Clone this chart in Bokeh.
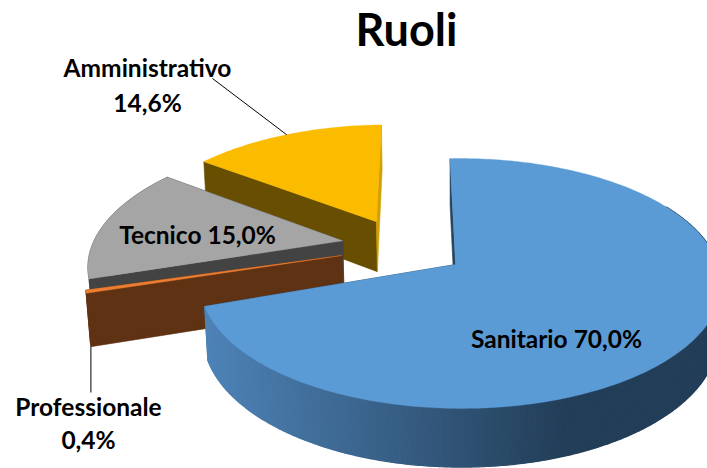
import math
from bokeh.plotting import figure
from bokeh.models import Range1d
from bokeh.core.properties import value
from bokeh.embed import file_html
from bokeh.resources import INLINE

names = ["Sanitario", "Professionale", "Tecnico", "Amministrativo"]
shares = [70.0, 0.4, 15.0, 14.6]
title_text = "Ruoli"

FONT = "Lato"
START = -1.4
TOP = dict(ax=455, ay=264, rx=250, ry=122, k=0.152)
BOT = dict(ax=455, ay=316, rx=247, ry=128, k=0.15)
OFFSET = {"Sanitario": (0, 0), "Professionale": (-0.46, 0.075),
          "Tecnico": (-0.465, 0.20), "Amministrativo": (-0.334, 0.37)}
RADIUS = {"Sanitario": 1.0, "Professionale": 1.012, "Tecnico": 1.025, "Amministrativo": 1.015}
TURN = {"Sanitario": 0.0, "Professionale": 2.0, "Tecnico": 0.0, "Amministrativo": 0.0}
SKEW = {"Sanitario": 0.02, "Professionale": 0.0, "Tecnico": 0.0, "Amministrativo": 0.0}
WIDE = {"Sanitario": 1.03, "Professionale": 1.0, "Tecnico": 1.0, "Amministrativo": 1.0}
TOPC = {"Sanitario": "#5B9BD5", "Professionale": "#ED7D31", "Tecnico": "#A5A5A5", "Amministrativo": "#FBBC00"}
SIDE = {"Sanitario": "#24435F", "Professionale": "#5F3214", "Tecnico": "#434343", "Amministrativo": "#674E00"}
END_FACE = {"Amministrativo": "#D2A000"}


def proj(name, r, deg, plane):
    u0, v0 = OFFSET[name]
    t = math.radians(deg + TURN[name])
    rr = r * RADIUS[name]
    u, v = u0 + rr * math.sin(t), v0 + rr * math.cos(t)
    w = 1 + plane["k"] * v - SKEW[name] * u
    return plane["ax"] + WIDE[name] * plane["rx"] * u / w, plane["ay"] - plane["ry"] * v / w


def arc(a, b, step=1.0):
    n = max(2, int(abs(b - a) / step) + 1)
    return [a + (b - a) * i / (n - 1) for i in range(n)]


spans = {}
acc = START
for n, s in zip(names, shares):
    spans[n] = (acc, acc + s * 3.6)
    acc += s * 3.6

p = figure(width=707, height=468, x_range=Range1d(0, 707), y_range=Range1d(468, 0),
           output_backend="svg", toolbar_location=None, min_border=0)
p.xaxis.visible = False
p.yaxis.visible = False
p.grid.visible = False
p.outline_line_color = None
p.background_fill_color = "white"


def poly(pts, color, lw=0.6):
    p.patch([q[0] for q in pts], [q[1] for q in pts], fill_color=color, line_color=color, line_width=lw)


def draw_slice(name):
    a, b = spans[name]
    angles = arc(a, b)
    for deg in (a, b):
        col = END_FACE.get(name, SIDE[name]) if deg == b else SIDE[name]
        poly([proj(name, 0, deg, TOP), proj(name, 1, deg, TOP), proj(name, 1, deg, BOT), proj(name, 0, deg, BOT)], col)
    if name == "Sanitario":
        fine = arc(a, b, 0.5)
        for d0, d1 in zip(fine[:-1], fine[1:]):
            if not 60 < d0:
                continue
            x = proj(name, 1, d0, TOP)[0]
            f = min(1.0, max(0.0, (x - 205) / (565 - 205)))
            col = "#%02X%02X%02X" % (round(0x4E + (0x23 - 0x4E) * f), round(0x83 + (0x3E - 0x83) * f), round(0xB7 + (0x58 - 0xB7) * f))
            poly([proj(name, 1, d0, TOP), proj(name, 1, d1, TOP), proj(name, 1, d1, BOT), proj(name, 1, d0, BOT)], col, 1.2)
    elif name != "Amministrativo":
        poly([proj(name, 1, d, TOP) for d in angles] + [proj(name, 1, d, BOT) for d in reversed(angles)], SIDE[name])
    poly([proj(name, 0, a, TOP)] + [proj(name, 1, d, TOP) for d in angles], TOPC[name], 0.4)


for nm in ["Amministrativo", "Tecnico", "Professionale", "Sanitario"]:
    draw_slice(nm)

a, b = spans["Amministrativo"]
lx, ly = proj("Amministrativo", 1, a + 0.5 * (b - a), TOP)
p.line([212, lx], [78, ly], line_color="#000000", line_width=1)
a, b = spans["Professionale"]
qx, qy = proj("Professionale", 1, a, BOT)
p.line([qx, qx], [qy, 392], line_color="#000000", line_width=1)


def pct(v):
    return f"{v:.1f}%".replace(".", ",")


def label(x, y, txt, size="24.5px"):
    p.text([x], [y], text=[txt], text_font=value(FONT), text_font_style="bold", text_font_size=size,
           text_color="#000000", text_align="center", text_baseline="middle")


val = dict(zip(names, shares))
label(406, 28, title_text, "45px")
label(147, 67, "Amministrativo")
label(147, 102, pct(val["Amministrativo"]))
label(197, 234, f"Tecnico {pct(val['Tecnico'])}")
label(556, 338, f"Sanitario {pct(val['Sanitario'])}")
label(88, 406, "Professionale")
label(88, 439, pct(val["Professionale"]))

open("out.html", "w").write(file_html(p, INLINE))
